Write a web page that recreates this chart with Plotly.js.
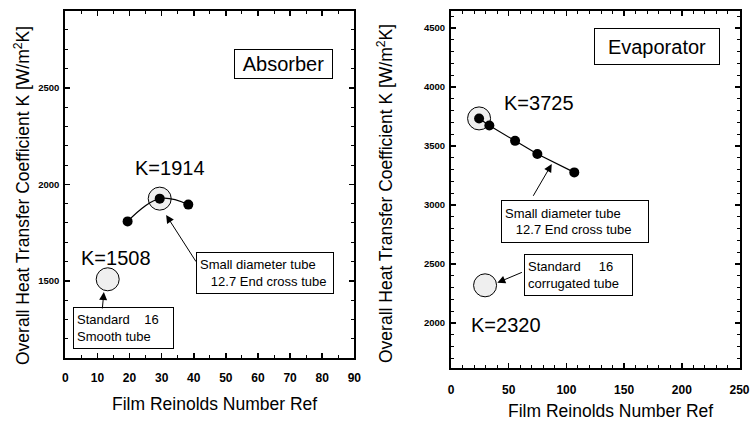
<!DOCTYPE html>
<html>
<head>
<meta charset="utf-8">
<script src="https://cdn.plot.ly/plotly-3.0.1.min.js"></script>
<style>html,body{margin:0;padding:0;background:#fff;}#chart{width:755px;height:421px;}</style>
</head>
<body>
<div id="chart"></div>
<script>
// ---- Data ----
const absRe = [19.4, 29.4, 38.3];          // Absorber, small diameter tube
const absK = [1808, 1926, 1895];
const absHighlight = 1;                    // circled point (K=1914)
const absStdRe = [13.2];                   // Standard 16 smooth tube
const absStdK = [1508];

const evaRe = [24.3, 33.2, 55.5, 74.8, 106.8]; // Evaporator, small diameter tube
const evaK = [3733, 3673, 3543, 3431, 3276];
const evaHighlight = 0;                        // circled point (K=3725)
const evaStdRe = [29.5];                       // Standard 16 corrugated tube
const evaStdK = [2320];

const panelTitles = ['Absorber', 'Evaporator'];
const kLabels = ['K=1914', 'K=1508', 'K=3725', 'K=2320'];
const boxSmall = 'Small diameter tube<br>\u00a0\u00a0\u00a012.7 End cross tube';
const boxStdAbs = 'Standard\u00a0\u00a0\u00a0\u00a016<br>Smooth tube';
const boxStdEva = 'Standard\u00a0\u00a0\u00a0\u00a0\u00a016<br>corrugated tube';
const xTitle = 'Film Reinolds Number Ref';
const yTitle = 'Overall Heat Transfer Coefficient K [W/m<sup>2</sup>K]';

const FONT = 'Liberation Sans, Arial, sans-serif';
const circleStyle = {size: 23, color: '#efefef', line: {color: '#000', width: 1}};
const dotStyle = {size: 10, color: '#000'};

const traces = [
  {x: [absRe[absHighlight]], y: [absK[absHighlight]], mode: 'markers', marker: circleStyle, xaxis: 'x', yaxis: 'y'},
  {x: absStdRe, y: absStdK, mode: 'markers', marker: circleStyle, xaxis: 'x', yaxis: 'y'},
  {x: absRe, y: absK, mode: 'lines', line: {color: '#000', width: 1.2, shape: 'spline', smoothing: 1.1}, xaxis: 'x', yaxis: 'y'},
  {x: absRe, y: absK, mode: 'markers', marker: dotStyle, xaxis: 'x', yaxis: 'y'},
  {x: [evaRe[evaHighlight]], y: [evaK[evaHighlight]], mode: 'markers', marker: circleStyle, xaxis: 'x2', yaxis: 'y2'},
  {x: evaStdRe, y: evaStdK, mode: 'markers', marker: circleStyle, xaxis: 'x2', yaxis: 'y2'},
  {x: evaRe, y: evaK, mode: 'lines', line: {color: '#000', width: 1.2}, xaxis: 'x2', yaxis: 'y2'},
  {x: evaRe, y: evaK, mode: 'markers', marker: dotStyle, xaxis: 'x2', yaxis: 'y2'}
];

function axisBase(extra) {
  return Object.assign({
    showgrid: false, zeroline: false, showline: true, linecolor: '#000', linewidth: 2,
    mirror: 'ticks', ticks: 'inside', ticklen: 5, tickwidth: 1.5, tickcolor: '#000',
    fixedrange: true
  }, extra);
}
const xTickFont = {family: FONT, size: 12, color: '#000', weight: 700};
const yTickFont = {family: FONT, size: 9.5, color: '#000', weight: 700};
const minorTicks = (d) => ({dtick: d, ticks: 'inside', ticklen: 3, tickwidth: 1, tickcolor: '#000', showgrid: false});

const boxAnn = (xref, yref, x, y, text, w, h) => ({
  xref: xref, yref: yref, x: x, y: y, text: text, align: 'left', showarrow: false,
  xanchor: 'center', yanchor: 'middle', font: {size: 13},
  bordercolor: '#000', borderwidth: 1, borderpad: 3, bgcolor: '#fff', width: w, height: h
});
const kAnn = (xref, yref, x, y, text) => ({
  xref: xref, yref: yref, x: x, y: y, text: text, showarrow: false,
  xanchor: 'center', yanchor: 'middle', font: {size: 20}
});
const arrowAnn = (xref, yref, x, y, ax, ay) => ({
  xref: xref, yref: yref, axref: xref, ayref: yref, x: x, y: y, ax: ax, ay: ay,
  text: '', showarrow: true, arrowhead: 2, arrowsize: 1.6, arrowwidth: 1, arrowcolor: '#000'
});
const paperAnn = (px, py, text, angle) => ({
  xref: 'paper', yref: 'paper', x: px / 755, y: 1 - py / 421, text: text, showarrow: false,
  xanchor: 'center', yanchor: 'middle', textangle: angle || 0, font: {size: 17.5}
});

const layout = {
  width: 755, height: 421,
  margin: {l: 0, r: 0, t: 0, b: 0},
  paper_bgcolor: '#fff', plot_bgcolor: '#fff',
  showlegend: false,
  font: {family: FONT, color: '#000'},
  xaxis: axisBase({domain: [0.0865, 0.4693], range: [0, 90], dtick: 10, tick0: 0, tickfont: xTickFont, ticklabelstandoff: 8, minor: minorTicks(5), anchor: 'y'}),
  yaxis: axisBase({domain: [0.1496, 0.9746], range: [1100, 2900], dtick: 500, tick0: 0, tickfont: yTickFont, ticklabelstandoff: 2, minor: minorTicks(100), anchor: 'x'}),
  xaxis2: axisBase({domain: [0.5974, 0.9795], range: [0, 250], dtick: 50, tick0: 0, tickfont: xTickFont, ticklabelstandoff: 10, minor: minorTicks(10), anchor: 'y2'}),
  yaxis2: axisBase({domain: [0.1259, 0.9746], range: [1620, 4645], dtick: 500, tick0: 0, tickfont: yTickFont, ticklabelstandoff: 2, minor: minorTicks(100), anchor: 'x2'}),
  annotations: [
    // panel name boxes
    {xref: 'x', yref: 'y', x: 67.9, y: 2623, text: panelTitles[0], showarrow: false, xanchor: 'center', yanchor: 'middle', font: {size: 20}, bordercolor: '#000', borderwidth: 1, borderpad: 1, bgcolor: '#fff', width: 95, height: 26},
    {xref: 'x2', yref: 'y2', x: 178.5, y: 4346, text: panelTitles[1], showarrow: false, xanchor: 'center', yanchor: 'middle', font: {size: 20}, bordercolor: '#000', borderwidth: 1, borderpad: 1, bgcolor: '#fff', width: 122, height: 33},
    // K labels
    kAnn('x', 'y', 32.6, 2087, kLabels[0]),
    kAnn('x', 'y', 15.8, 1618, kLabels[1]),
    kAnn('x2', 'y2', 76.3, 3861, kLabels[2]),
    kAnn('x2', 'y2', 47.2, 1987, kLabels[3]),
    // description boxes
    boxAnn('x', 'y', 62.3, 1541, boxSmall, 130, 34),
    boxAnn('x', 'y', 18.1, 1253, boxStdAbs, 93, 34),
    boxAnn('x2', 'y2', 107.0, 2863, boxSmall, 140, 35),
    boxAnn('x2', 'y2', 110.4, 2410, boxStdEva, 101, 34),
    // arrows
    arrowAnn('x', 'y', 31.4, 1841, 41.0, 1592),
    arrowAnn('x', 'y', 12.0, 1442, 11.5, 1349),
    arrowAnn('x2', 'y2', 87.3, 3347, 70.5, 3065),
    arrowAnn('x2', 'y2', 40.1, 2342, 62.7, 2435),
    // axis titles
    paperAnn(214, 404, xTitle),
    paperAnn(610, 411, xTitle),
    paperAnn(22, 196, yTitle, -90),
    paperAnn(385, 194, yTitle, -90)
  ]
};

Plotly.newPlot('chart', traces, layout, {staticPlot: true, displayModeBar: false});
</script>
</body>
</html>
